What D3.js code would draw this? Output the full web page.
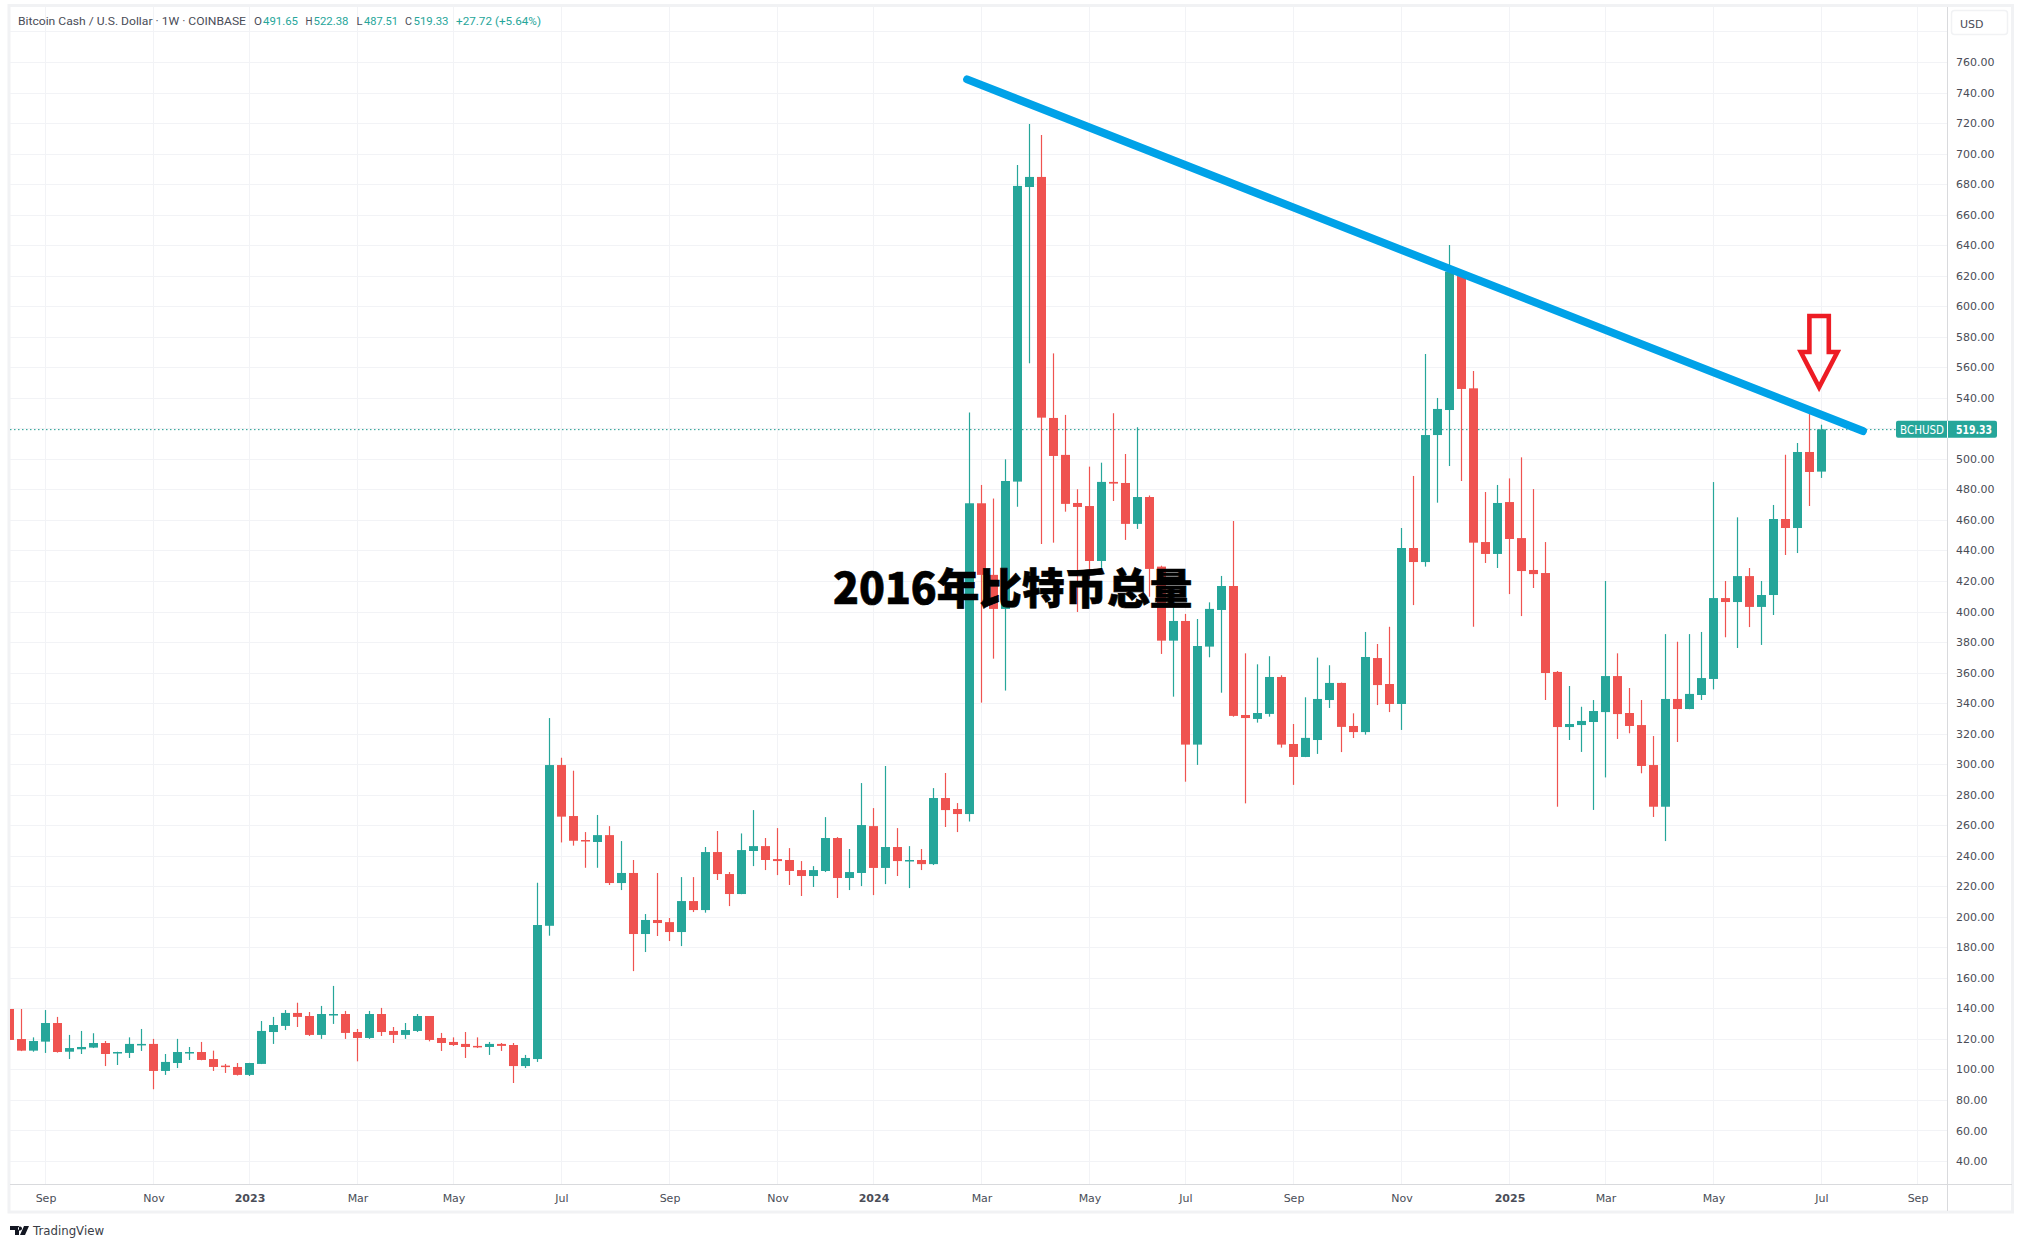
<!DOCTYPE html>
<html>
<head>
<meta charset="utf-8">
<script src="https://cdn.jsdelivr.net/npm/d3@7"></script>
<style>
  html, body { margin: 0; background: #fff; }
  svg { display: block; }
  text { font-family: "DejaVu Sans", sans-serif; }
</style>
</head>
<body>
<svg id="chart" width="2023" height="1247"></svg>
<script>
// weekly candles, one entry per week
const opens = [139.6,119.9,112.3,118.2,130.4,111.6,113.2,114.3,117.3,111,110.8,116.2,116.7,99,104.2,111,111.4,106.8,102.5,101.6,
  96.4,103.6,124.5,128.5,137,135,122.6,135.9,136.3,124.5,120.6,136.3,125.2,122.6,125.2,135,120.6,118,116.7,115.4,
  114.7,116.7,116,102.2,106.8,194.1,299.4,266,250.3,249,253.5,222.1,228.7,188.7,197.9,196.5,190,210.3,204.4,242.4,
  228,214.9,243.1,246.3,237.8,237.2,230.6,226.7,230,251.6,225.4,228.7,259.4,232,245.7,236.7,237.2,234.5,277.8,270.6,
  267.3,470.9,424,401.7,485.1,678.1,684.7,526.8,502.6,471.1,469.1,433.1,484.9,484.2,457.4,475,429.4,380.9,393.8,312.8,
  377,401,416.7,332.2,329.6,332.9,357.1,313.2,304.7,315.8,342,353.2,325,321,369.5,352.5,339.4,441.6,432.4,515.6,
  532,622.6,546.2,445.5,437.7,471.7,448.1,427.2,425.2,360.4,324.3,325.6,327.6,334.1,357.7,333.5,325.6,299.4,272.1,342.7,
  336.1,345.3,355.8,408.8,406.2,423.2,403,410.8,460.6,454.7,504.5,491.65];
const highs = [139.6,139.6,121,138.9,134.4,122.6,125.2,123.7,118.6,111.6,121,126.5,120,110.1,120,114.7,118,112.3,103.6,104.2,
  104.3,131.7,134.4,138.9,143.7,137.6,141.6,154.7,138.3,126.5,138.3,140.3,127.8,130.4,136.3,135,123.9,121,124.5,121,
  118,117.3,117.3,109.5,222.3,330.2,304.2,295.7,255.5,266.7,259.4,249.6,237.2,201.8,228.7,199.2,226,226,245.7,256.2,
  229.3,254.6,269.9,251.6,258.1,245,236.5,233.2,265.3,252.2,244.4,287.6,271.2,298.8,258.1,246.3,244.4,284.3,294.2,274.5,
  530.3,482.9,474,499.7,692.5,719.4,712.2,569.1,528.8,480.1,494.9,497.5,529.9,503.2,520.7,476,430,404.3,398.4,395.1,
  406,423.3,459.3,372.6,365.4,370.7,358.2,326.3,343.8,369.8,364.8,353.4,333.3,386.6,378.7,390,454.7,488.8,568.7,539.9,
  640.1,623.7,557.6,478.3,482.9,487.2,501,480.2,445.5,361,351.2,337.6,342,420,372.6,349.9,342,318.4,385.2,380.2,
  385.2,386.6,484.8,420,461.7,428.5,420,469.8,502.7,510.4,530,522.38];
const lows = [119.3,112,111.6,110.8,111,106.8,110.1,114,102.2,102.9,107.5,112.1,87,96.4,100.9,106.2,106,99,97.7,96,
  95.7,103.5,116.7,125.8,127.8,121.9,120,129.8,120,105.3,120,121.9,117.3,120,124.5,118.4,112.1,115.4,107.5,114,
  109.5,112.1,91.1,100.9,104.9,187.6,248.7,246.6,232.1,232.1,220.8,217.5,164.4,176.9,187.4,184.1,180.8,203.1,202.7,224.1,
  207,214.8,233.2,230.6,227.3,220.8,213.6,219.5,229.3,212.3,217.5,220.1,214.2,221.4,226.7,218.8,230.6,233.9,258.8,255.5,
  262.5,340.3,369.1,348.2,468.7,562.6,444.3,445.1,465.4,399.7,421,428,472.4,446.9,454.1,409.7,372.2,344.2,288.5,299.5,
  370,346.8,331.1,274.3,327.2,331.1,310.8,286.4,304.6,306.7,336.8,307.9,317.1,319.3,338.7,334.1,322.4,404.2,429.4,471.3,
  495.3,485.5,390,431.8,428.5,411.4,397,415.4,342,272.1,315.8,308,270,291.3,316.5,320.2,294,265.4,249.6,314.5,
  336,342,349,383.1,376.1,389.8,378.1,397.7,437,438.3,469.1,487.51];
const closes = [119.3,112.3,118.6,130.4,111.4,114,114.7,117.3,110.1,111.4,116.7,116.7,99,104.9,111.4,111.4,106.2,101.6,102,96.4,
  104.2,125.2,129.1,137,134.4,122.6,136.3,136.3,123.9,120.6,136.3,124.5,122.6,125.8,135,119.3,117.3,116,114.7,114.7,
  116.7,115.4,102.2,107.5,194.6,299.4,265.6,249.8,249.6,253.5,222.1,228.7,188.7,197.9,195.9,190,210.3,204.4,242.4,228,
  214.9,243.7,246.3,237.2,236.5,230,226.7,230.6,251.6,225.4,229.3,260.1,232,245.7,236.5,237.2,234.5,277.8,269.9,267.3,
  470.9,424,401.7,485.5,678.8,684.7,527,501.9,470.5,468.5,433.1,484.9,483.8,457.4,475,427.9,380.9,393.8,312.8,377.4,
  401.7,416.7,331.6,330.2,333.5,357.1,312.8,304.7,317.2,342.7,353.2,324.4,321,370.2,351.8,339.4,441.6,432.4,515.6,532.7,
  622.6,545.8,445.1,437.7,471.1,447.5,426.5,424.5,359.7,324.3,326.3,328.3,334.8,357.7,332.8,325,298.8,272.1,342.7,336.1,
  346,356.4,408.8,406.2,423.2,403,410.8,460.6,454.7,504.5,491.4,519.33];

// 520.00 sits under the last price tag in the reference, so it gets no label
const priceTicks = d3.range(40, 761, 20).filter(d => d !== 520);
const gridPrices = d3.range(40, 781, 20);
const timeWeeks = [3,12,20,29,37,46,55,64,72,81,90,98,107,116,125,133,142,151,159];
const timeLabels = ["Sep","Nov","2023","Mar","May","Jul","Sep","Nov","2024","Mar","May","Jul","Sep","Nov","2025","Mar","May","Jul","Sep"];
const yearLabels = ["2023","2024","2025"];

const trendWeeks = [79.8, 154.45];
const trendPrices = [748.6, 518.2];
const lastPrice = 519.33;
const arrowWeek = 150.8;
const arrowPrice = 546.9;

const UP = "#26a69a", DOWN = "#ef5350", GRID = "#f2f3f6", AXIS = "#d9dadd", FRAME = "#f1f2f4", INK = "#4a4d57";

const plot = { left: 10, right: 1947, top: 7, bottom: 1184 };
const x = d3.scaleLinear().domain([0, 159]).range([9.5, 1917.5]);
const y = d3.scaleLinear().domain([40, 760]).range([1161, 62]);

const svg = d3.select("#chart");

svg.append("defs").append("clipPath").attr("id", "plot-clip")
  .append("rect")
  .attr("x", plot.left).attr("y", plot.top)
  .attr("width", plot.right - plot.left).attr("height", plot.bottom - plot.top);

// outer frame
svg.append("rect")
  .attr("x", 9).attr("y", 5.5).attr("width", 2003.5).attr("height", 1206.5)
  .attr("fill", "#fff").attr("stroke", FRAME).attr("stroke-width", 3);

// grid
svg.append("g").selectAll("line").data(gridPrices).join("line")
  .attr("x1", plot.left).attr("x2", plot.right)
  .attr("y1", d => Math.round(y(d)) + 0.5).attr("y2", d => Math.round(y(d)) + 0.5)
  .attr("stroke", GRID);
svg.append("g").selectAll("line").data(timeWeeks).join("line")
  .attr("x1", d => x(d)).attr("x2", d => x(d))
  .attr("y1", plot.top).attr("y2", plot.bottom)
  .attr("stroke", GRID);

// last price line
svg.append("line")
  .attr("x1", plot.left).attr("x2", plot.right)
  .attr("y1", y(lastPrice) + 0.3).attr("y2", y(lastPrice) + 0.3)
  .attr("stroke", "#1f9a8e").attr("stroke-dasharray", "1.5 2.5");

// candles
const candles = svg.append("g").attr("clip-path", "url(#plot-clip)")
  .selectAll("g").data(opens.map((o, i) => i)).join("g")
  .attr("fill", i => closes[i] >= opens[i] ? UP : DOWN)
  .attr("stroke", i => closes[i] >= opens[i] ? UP : DOWN);
candles.append("line")
  .attr("x1", i => x(i)).attr("x2", i => x(i))
  .attr("y1", i => y(highs[i])).attr("y2", i => y(lows[i]))
  .attr("stroke-width", 1.2);
candles.append("rect")
  .attr("x", i => x(i) - 4.5).attr("width", 9)
  .attr("y", i => y(Math.max(opens[i], closes[i])))
  .attr("height", i => Math.max(1.5, Math.abs(y(opens[i]) - y(closes[i]))))
  .attr("stroke", "none");

// axes
svg.append("line").attr("x1", plot.right + 0.5).attr("x2", plot.right + 0.5)
  .attr("y1", plot.top).attr("y2", 1211).attr("stroke", AXIS);
svg.append("line").attr("x1", plot.left).attr("x2", 2012)
  .attr("y1", plot.bottom + 0.5).attr("y2", plot.bottom + 0.5).attr("stroke", AXIS);

const yAxis = svg.append("g")
  .attr("transform", `translate(${plot.right},0)`)
  .call(d3.axisRight(y).tickValues(priceTicks).tickFormat(d3.format(".2f")).tickSize(0).tickPadding(9));
const xAxis = svg.append("g")
  .attr("transform", `translate(0,${plot.bottom})`)
  .call(d3.axisBottom(x).tickValues(timeWeeks).tickFormat((d, i) => timeLabels[i]).tickSize(0).tickPadding(10));
yAxis.select(".domain").remove();
xAxis.select(".domain").remove();
yAxis.selectAll("text").attr("fill", INK).style("font-size", "11px");
xAxis.selectAll("text").attr("fill", INK).style("font-size", "11px")
  .style("font-weight", (d, i) => yearLabels.includes(timeLabels[i]) ? "bold" : "normal");

// currency box
svg.append("rect")
  .attr("x", 1951.5).attr("y", 10.5).attr("width", 56).attr("height", 24).attr("rx", 3)
  .attr("fill", "#fff").attr("stroke", FRAME).attr("stroke-width", 1.5);
svg.append("text").attr("x", 1960).attr("y", 27.5).attr("fill", INK).style("font-size", "11px").text("USD");

// last price tag
const tagY = y(lastPrice);
svg.append("rect").attr("x", 1896).attr("y", tagY - 8.5).attr("width", 101).attr("height", 17).attr("rx", 2).attr("fill", UP);
svg.append("line").attr("x1", plot.right + 0.5).attr("x2", plot.right + 0.5)
  .attr("y1", tagY - 8.5).attr("y2", tagY + 8.5).attr("stroke", "#fff");
svg.append("text").attr("x", 1900).attr("y", tagY + 5).attr("fill", "#fff")
  .attr("textLength", 44).attr("lengthAdjust", "spacingAndGlyphs")
  .style("font-size", "12px").text("BCHUSD");
svg.append("text").attr("x", 1956).attr("y", tagY + 5).attr("fill", "#fff")
  .style("font-size", "12px").style("font-weight", "bold").attr("textLength", 36).attr("lengthAdjust", "spacingAndGlyphs")
  .text(lastPrice.toFixed(2));

// trend line
svg.append("line")
  .attr("x1", x(trendWeeks[0])).attr("y1", y(trendPrices[0]))
  .attr("x2", x(trendWeeks[1])).attr("y2", y(trendPrices[1]))
  .attr("stroke", "#00a2e8").attr("stroke-width", 8).attr("stroke-linecap", "round");

// hollow arrow, offsets from its tip
const ax = x(arrowWeek), ay = y(arrowPrice);
const arrowShape = [[-9.7,-71.3],[9.7,-71.3],[9.7,-35.3],[18.3,-35.3],[0,0],[-18.3,-35.3],[-9.7,-35.3]];
svg.append("path")
  .attr("d", d3.line()(arrowShape.map(p => [ax + p[0], ay + p[1]])) + "Z")
  .attr("fill", "none").attr("stroke", "#ed1c24").attr("stroke-width", 4.6).attr("stroke-linejoin", "miter");

// header legend
const headerDark = [[18, 228, "Bitcoin Cash / U.S. Dollar · 1W · COINBASE"], [254, 8, "O"], [305.5, 7, "H"], [356.5, 6, "L"], [405, 7, "C"]];
const headerGreen = [[263, 35, "491.65"], [313.5, 35, "522.38"], [364, 34, "487.51"], [413.5, 35, "519.33"], [456, 85, "+27.72 (+5.64%)"]];
svg.append("g").selectAll("text").data(headerDark).join("text")
  .attr("x", d => d[0]).attr("y", 25).attr("fill", INK)
  .attr("textLength", d => d[1]).attr("lengthAdjust", "spacingAndGlyphs")
  .style("font-family", "Roboto").style("font-size", "11.5px").text(d => d[2]);
svg.append("g").selectAll("text").data(headerGreen).join("text")
  .attr("x", d => d[0]).attr("y", 25).attr("fill", UP)
  .attr("textLength", d => d[1]).attr("lengthAdjust", "spacingAndGlyphs")
  .style("font-family", "Roboto").style("font-size", "11.5px").text(d => d[2]);

// watermark logo and name
svg.append("path")
  .attr("d", "M10 1226h9v9h-4v-5h-5z M20 1226.5a2 2 0 1 0 .01 0z M24 1226h5l-4 9h-5z")
  .attr("fill", "#131722");
svg.append("text").attr("x", 33).attr("y", 1235).attr("fill", "#3a3d46")
  .attr("textLength", 71).attr("lengthAdjust", "spacingAndGlyphs")
  .style("font-size", "12.5px").text("TradingView");

// title over everything
svg.append("text")
  .attr("x", 833).attr("y", 604)
  .attr("fill", "#000")
  .attr("stroke", "#000").attr("stroke-width", 0.7)
  .style("font-family", '"Noto Sans CJK SC"')
  .style("font-weight", 900)
  .style("font-size", "42.6px")
  .text("2016年比特币总量");
</script>
</body>
</html>
